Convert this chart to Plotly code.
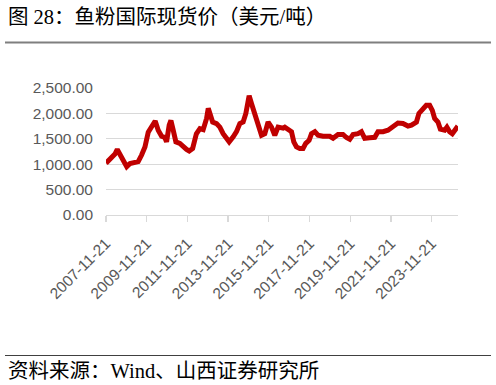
import plotly.graph_objects as go

# ---- data ----
dates = [
    "2007-11-21", "2008-02-01", "2008-04-30", "2008-06-10", "2008-07-28", "2008-09-27",
    "2008-11-27", "2009-01-25", "2009-04-23", "2009-06-21", "2009-08-21", "2009-10-20",
    "2009-12-18", "2010-03-07", "2010-04-22", "2010-06-15", "2010-08-15", "2010-10-12",
    "2010-11-12", "2010-12-29", "2011-01-29", "2011-03-11", "2011-04-28", "2011-07-08",
    "2011-09-06", "2011-11-06", "2011-12-23", "2012-02-23", "2012-04-30", "2012-07-02",
    "2012-08-30", "2012-10-30", "2012-11-29", "2013-01-11", "2013-02-16", "2013-04-27",
    "2013-06-25", "2013-08-23", "2013-10-24", "2013-12-10", "2014-02-20", "2014-04-20",
    "2014-06-19", "2014-08-17", "2014-10-05", "2014-11-15", "2014-12-03", "2015-01-15",
    "2015-03-15", "2015-05-13", "2015-07-13", "2015-09-10", "2015-11-08", "2016-01-08",
    "2016-03-07", "2016-05-05", "2016-08-03", "2016-09-03", "2016-11-01", "2017-01-01",
    "2017-02-11", "2017-03-31", "2017-05-29", "2017-07-27", "2017-09-14", "2017-11-13",
    "2017-12-26", "2018-02-24", "2018-04-22", "2018-07-21", "2018-11-19", "2019-01-17",
    "2019-04-16", "2019-07-14", "2019-09-14", "2019-11-12", "2020-01-10", "2020-04-09",
    "2020-06-09", "2020-08-07", "2020-11-05", "2021-02-03", "2021-04-02", "2021-07-01",
    "2021-09-29", "2021-12-28", "2022-03-26", "2022-06-24", "2022-09-22", "2022-11-23",
    "2023-02-21", "2023-04-07", "2023-06-17", "2023-08-17", "2023-10-16", "2023-12-03",
    "2024-01-14", "2024-03-13", "2024-04-25", "2024-07-11", "2024-08-21", "2024-10-09",
    "2024-11-26", "2025-01-24", "2025-03-06",
]
prices = [
    1020, 1110, 1200, 1290, 1180, 1050,
    950, 1015, 1030, 1050, 1180, 1340,
    1630, 1770, 1850, 1670, 1550, 1525,
    1440, 1770, 1860, 1670, 1440, 1410,
    1340, 1290, 1260, 1310, 1600, 1700,
    1680, 1900, 2100, 1960, 1830, 1800,
    1730, 1600, 1490, 1440, 1540, 1640,
    1800, 1830, 2000, 2260, 2350, 2190,
    2000, 1770, 1570, 1600, 1830, 1730,
    1570, 1730, 1710, 1730, 1670, 1640,
    1440, 1340, 1310, 1310, 1410, 1470,
    1600, 1640, 1570, 1550, 1550, 1510,
    1585, 1585, 1525, 1490, 1585, 1600,
    1640, 1510, 1520, 1530, 1640, 1640,
    1670, 1730, 1810, 1800, 1750, 1770,
    1830, 2000, 2100, 2160, 2160, 2060,
    1900, 1830, 1690, 1670, 1730, 1640,
    1600, 1670, 1750,
]
tick_dates = ["2007-11-21", "2009-11-21", "2011-11-21", "2013-11-21", "2015-11-21",
              "2017-11-21", "2019-11-21", "2021-11-21", "2023-11-21"]
y_ticks = [0, 500, 1000, 1500, 2000, 2500]

title_text = "图 28：鱼粉国际现货价（美元/吨）"
source_text = "资料来源：Wind、山西证券研究所"

# ---- layout geometry (pixels) ----
W, H = 496, 385
L, R, T, B = 106, 38, 88, 170
pw, ph = W - L - R, H - T - B


def px_x(x):
    return (x - L) / pw


def px_y(y):
    return (H - B - y) / ph


fig = go.Figure()
fig.add_trace(go.Scatter(
    x=dates, y=prices, mode="lines",
    line=dict(color="#C00000", width=5),
    hoverinfo="skip", showlegend=False,
))

tick_font = dict(family="Liberation Sans, Arial, sans-serif", size=15.5, color="#595959")
cjk_font = dict(family="Liberation Serif, Noto Sans CJK SC, serif", size=20.5, color="#000000")

fig.update_layout(
    width=W, height=H,
    margin=dict(l=L, r=R, t=T, b=B, pad=0),
    paper_bgcolor="white", plot_bgcolor="white",
    xaxis=dict(
        type="date",
        range=["2007-11-21", "2025-03-08"],
        tickvals=tick_dates, ticktext=tick_dates,
        tickangle=-45, tickfont=tick_font, ticklabelstandoff=6,
        ticks="outside", ticklen=6, tickcolor="#D9D9D9", tickwidth=1.3,
        showline=True, linecolor="#D9D9D9", linewidth=1.3,
        showgrid=False, zeroline=False,
    ),
    yaxis=dict(
        range=[0, 2500], tickvals=y_ticks, tickformat=",.2f",
        tickfont=tick_font, ticks="", ticklabelstandoff=12,
        showgrid=True, gridcolor="#D9D9D9", gridwidth=1.3,
        zeroline=False, showline=False,
    ),
    annotations=[
        dict(text=title_text, x=px_x(6), y=px_y(17), xref="paper", yref="paper",
             xanchor="left", yanchor="middle", showarrow=False, font=cjk_font),
        dict(text=source_text, x=px_x(6), y=px_y(371), xref="paper", yref="paper",
             xanchor="left", yanchor="middle", showarrow=False, font=cjk_font),
    ],
    shapes=[
        dict(type="line", xref="paper", yref="paper",
             x0=px_x(5), x1=px_x(491), y0=px_y(42.5), y1=px_y(42.5),
             line=dict(color="#7F7F7F", width=2)),
        dict(type="line", xref="paper", yref="paper",
             x0=px_x(5), x1=px_x(491), y0=px_y(355.5), y1=px_y(355.5),
             line=dict(color="#404040", width=1)),
    ],
)

fig.write_html(
    "out.html",
    config={"displayModeBar": False, "staticPlot": True},
    post_script="document.body.style.margin='0';document.body.style.overflow='hidden';",
)
